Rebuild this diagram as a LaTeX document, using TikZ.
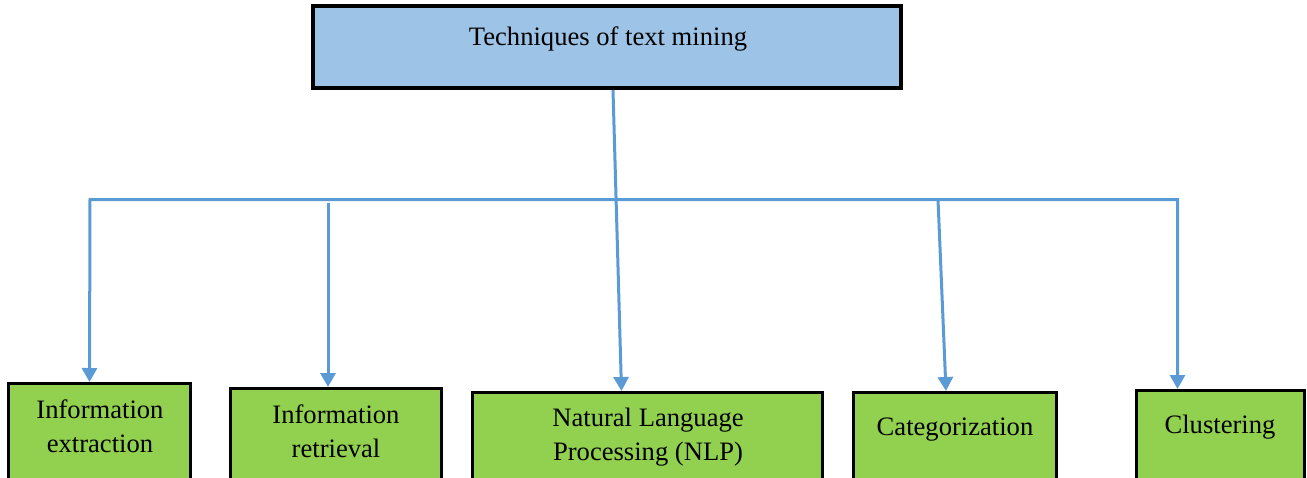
\documentclass[tikz,border=0pt]{standalone}
\usepackage{fontspec}
\setmainfont{Liberation Serif}
\usetikzlibrary{arrows.meta,calc}

\definecolor{headblue}{RGB}{157,195,230}
\definecolor{leafgreen}{RGB}{146,208,80}
\definecolor{linkblue}{RGB}{91,155,213}

\tikzset{
  headbox/.style={draw=black,line width=2pt,fill=headblue,inner sep=0pt},
  leafbox/.style={draw=black,line width=1.5pt,fill=leafgreen,anchor=north west,minimum height=60pt,inner sep=0pt},
  link/.style={draw=linkblue,line width=1.5pt,-{Triangle[width=7.5pt,length=7pt]}},
  lbl/.style={align=center,font=\fontsize{13.3}{17}\selectfont,inner sep=0pt,anchor=base}
}

\begin{document}
\begin{tikzpicture}[x=0.5pt,y=-0.5pt]
\useasboundingbox (0,0) rectangle (1307,477);
\node[headbox,minimum width=294pt,minimum height=41pt] (tm) at (607,47) {};
\node[lbl] (tm-t) at (608,45) {Techniques of text mining};
\node[leafbox,minimum width=91pt] (ie) at (7,382) {};
\node[leafbox,minimum width=105.5pt] (ir) at (229,387) {};
\node[leafbox,minimum width=175pt] (nlp) at (471,391) {};
\node[leafbox,minimum width=101.5pt] (cat) at (852,391) {};
\node[leafbox,minimum width=84pt] (cl) at (1135,389) {};
\node[lbl] (ie-t) at (100,452) {Information\\extraction};
\node[lbl] (ir-t) at (336,457) {Information\\retrieval};
\node[lbl] (nlp-t) at (648,460) {Natural Language\\Processing (NLP)};
\node[lbl] (cat-t) at (955,435) {Categorization};
\node[lbl] (cl-t) at (1220,433) {Clustering};
\coordinate (bus) at (90,199.5);
\coordinate (ir-in) at (328,203);
\coordinate (cat-in) at (938,199.5);
\draw[link,{Triangle[width=7.5pt,length=7pt]}-{Triangle[width=7.5pt,length=7pt]}] ($(ie.north)+(-10,0)$) -- (bus) -| ($(cl.north)+(-43,0)$);
\draw[link] (ir-in) -- ($(ir.north)+(-8,0)$);
\draw[link] ($(tm.south)+(6,0)$) -- ($(nlp.north)+(-26,0)$);
\draw[link] (cat-in) -- ($(cat.north)+(-9,0)$);
\end{tikzpicture}
\end{document}
